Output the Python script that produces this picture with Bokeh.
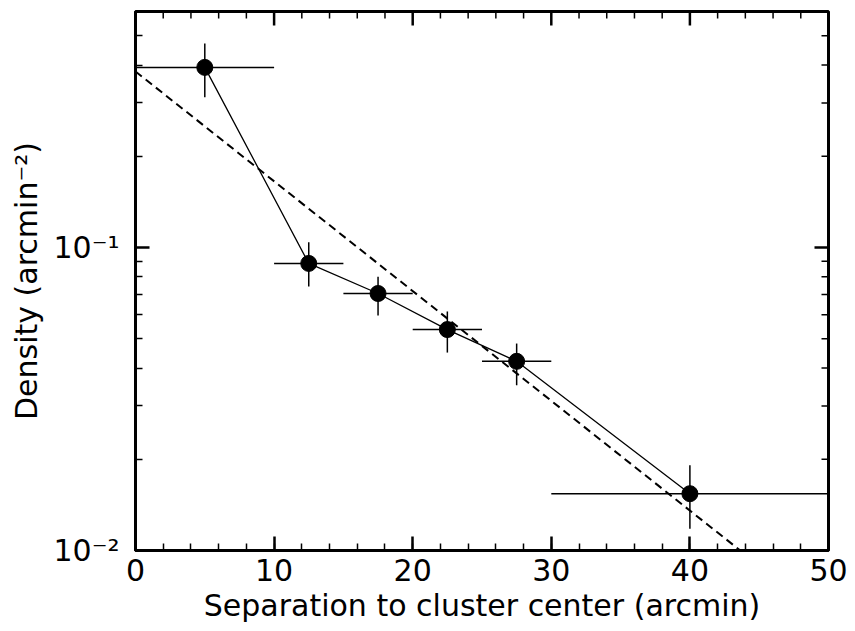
import math
from bokeh.plotting import figure
from bokeh.models import FixedTicker, Range1d, ColumnDataSource, CustomJSTickFormatter
from bokeh.embed import file_html
from bokeh.resources import INLINE

# --- data ---
sep = [5.0, 12.5, 17.5, 22.5, 27.5, 40.0]
sep_lo = [0.0, 10.0, 15.0, 20.0, 25.0, 30.0]
sep_hi = [10.0, 15.0, 20.0, 25.0, 30.0, 50.0]
density = [0.393, 0.0886, 0.0705, 0.0536, 0.0421, 0.0154]
density_lo = [0.313, 0.0744, 0.0597, 0.0450, 0.0351, 0.0118]
density_hi = [0.471, 0.1040, 0.0800, 0.0615, 0.0482, 0.0191]
fit_x = [0.0, 50.0]
fit_y = [0.381, 0.00588]

x_major = [0, 10, 20, 30, 40, 50]
x_minor = [v for v in range(0, 51, 2)]
y_major = [0.01, 0.1]
y_minor = [0.02, 0.03, 0.04, 0.05, 0.06, 0.07, 0.08, 0.09, 0.2, 0.3, 0.4, 0.5, 0.6]

X_MIN, X_MAX = 0, 50
Y_MIN, Y_MAX = 0.01, 0.601

FONT = "DejaVu Sans"

src = ColumnDataSource(dict(x=sep, y=density, xlo=sep_lo, xhi=sep_hi,
                            ylo=density_lo, yhi=density_hi))

p = figure(width=855, height=631, output_backend="svg", toolbar_location=None,
           y_axis_type="log", x_range=Range1d(X_MIN, X_MAX), y_range=Range1d(Y_MIN, Y_MAX),
           min_border_left=135, min_border_right=27, min_border_top=11,
           min_border_bottom=81)
p.background_fill_color = "white"
p.border_fill_color = "white"
p.grid.visible = False
p.outline_line_color = "black"
p.outline_line_width = 3

xt = FixedTicker(ticks=x_major, minor_ticks=x_minor)
yt = FixedTicker(ticks=y_major, minor_ticks=y_minor)
yfmt = CustomJSTickFormatter(code="""
const e = Math.round(Math.log10(tick));
const sup = {'-':'\u207b','0':'\u2070','1':'\u00b9','2':'\u00b2','3':'\u00b3','4':'\u2074','5':'\u2075','6':'\u2076','7':'\u2077','8':'\u2078','9':'\u2079'};
return '10' + String(e).split('').map(c => sup[c]).join('');
""")

MAJ_LEN, MIN_LEN = 14, 7
MAJ_W, MIN_W = 2.5, 1.5

def style(ax):
    ax.axis_line_width = 3
    ax.axis_line_color = "black"
    ax.major_tick_in = MAJ_LEN
    ax.major_tick_out = 0
    ax.minor_tick_in = MIN_LEN
    ax.minor_tick_out = 0
    ax.major_tick_line_width = MAJ_W
    ax.minor_tick_line_width = MIN_W
    ax.major_tick_line_color = "black"
    ax.minor_tick_line_color = "black"
    ax.major_label_text_font = FONT
    ax.major_label_text_font_size = "30px"
    ax.major_label_text_color = "black"
    ax.axis_label_text_font = FONT
    ax.axis_label_text_font_size = "30px"
    ax.axis_label_text_font_style = "normal"
    ax.axis_label_text_color = "black"

xa = p.xaxis[0]
xa.ticker = xt
style(xa)
xa.axis_label = "Separation to cluster center (arcmin)"
xa.major_label_standoff = 8
xa.axis_label_standoff = 4

ya = p.yaxis[0]
ya.ticker = yt
ya.formatter = yfmt
style(ya)
ya.axis_label = "Density (arcmin\u207b\u00b2)"
ya.major_label_standoff = 16
ya.axis_label_standoff = 6

# mirrored ticks on the top and right edges (screen-length rays, no labels)
top_major = [t for t in x_major if X_MIN < t < X_MAX]
top_minor = [t for t in x_minor if X_MIN < t < X_MAX and t not in x_major]
p.ray(x=top_major, y=[Y_MAX] * len(top_major), length=MAJ_LEN, length_units="screen",
      angle=-math.pi / 2, line_color="black", line_width=MAJ_W)
p.ray(x=top_minor, y=[Y_MAX] * len(top_minor), length=MIN_LEN, length_units="screen",
      angle=-math.pi / 2, line_color="black", line_width=MIN_W)
right_major = [t for t in y_major if Y_MIN < t < Y_MAX]
right_minor = [t for t in y_minor if Y_MIN < t < Y_MAX]
p.ray(x=[X_MAX] * len(right_major), y=right_major, length=MAJ_LEN, length_units="screen",
      angle=math.pi, line_color="black", line_width=MAJ_W)
p.ray(x=[X_MAX] * len(right_minor), y=right_minor, length=MIN_LEN, length_units="screen",
      angle=math.pi, line_color="black", line_width=MIN_W)

# fit (dashed)
p.line(fit_x, fit_y, line_color="black", line_width=2, line_dash="8 5")
# error bars
p.segment(x0="xlo", y0="y", x1="xhi", y1="y", source=src, line_color="black", line_width=1.5)
p.segment(x0="x", y0="ylo", x1="x", y1="yhi", source=src, line_color="black", line_width=1.5)
# connecting line
p.line(x="x", y="y", source=src, line_color="black", line_width=1.3)
# points
p.scatter(x="x", y="y", source=src, size=16, marker="circle",
          fill_color="black", line_color="black")

open("out.html", "w").write(file_html(p, INLINE))
